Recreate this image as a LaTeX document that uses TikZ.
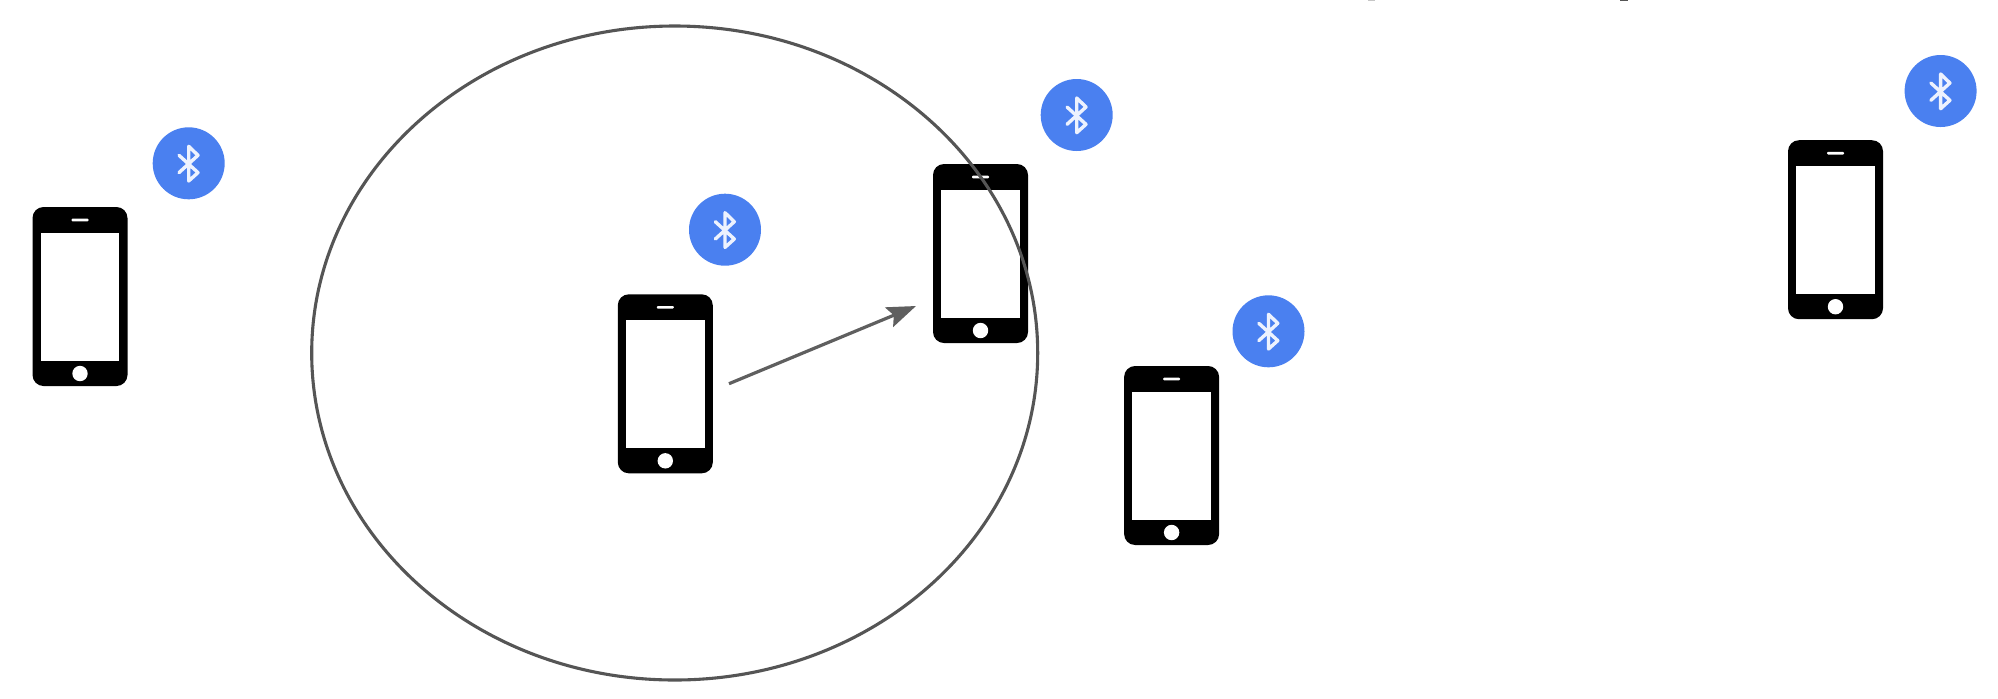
\documentclass[tikz,border=0pt]{standalone}
\usetikzlibrary{arrows.meta,shapes.geometric}
\definecolor{btblue}{HTML}{4A80F0}
\definecolor{ringgray}{HTML}{555555}
\definecolor{arrowgray}{HTML}{5F5F5F}
\tikzset{
  x=0.5pt,y=-0.5pt,
  phonebody/.style={draw=none,fill=black,rounded corners=5.5pt,minimum width=47.5pt,minimum height=89.5pt,inner sep=0pt},
  phonescreen/.style={draw=none,fill=white,minimum width=39.3pt,minimum height=63.7pt,inner sep=0pt},
  phonebutton/.style={circle,draw=none,fill=white,minimum size=7.7pt,inner sep=0pt},
  phonespeaker/.style={draw=none,fill=white,rounded corners=0.5pt,minimum width=8.5pt,minimum height=1.3pt,inner sep=0pt},
  btbadge/.style={circle,draw=none,fill=btblue,minimum size=36pt,inner sep=0pt},
  btglyph/.style={draw=white!90!btblue,line width=1.7pt,line cap=round,line join=round},
  ring/.style={draw=ringgray,line width=1.55pt},
  signal/.style={draw=arrowgray,line width=1.6pt,-{Stealth[length=14.5pt,width=10.5pt,inset=2.5pt]}},
  phone/.pic={
    \node[phonebody] (-body) at (0,0) {};
    \node[phonescreen] (-screen) at (0,0.3) {};
    \node[phonespeaker] (-speaker) at (0,-76.5) {};
    \node[phonebutton] (-button) at (0,77) {};
  },
  btmark/.pic={
    \node[btbadge] (-badge) at (0,0) {};
    \draw[btglyph] (-9.7,-8) -- (9.3,9.3) -- (0,17.7) -- (0,-17) -- (9.3,-8) -- (-9.7,9.3);
  }
}
\begin{document}
\begin{tikzpicture}
\useasboundingbox (0,0) rectangle (1998,698);
\fill[white] (0,0) rectangle (1998,698);
\fill[gray!45] (1368,0) rectangle (1375,1.2);
\fill[ringgray] (1620,0) rectangle (1628,1.4);
\pic (p1) at (80,296.5) {phone};
\pic (p2) at (665.3,383.8) {phone};
\pic (p3) at (980.5,253.5) {phone};
\pic (p4) at (1171.6,455.5) {phone};
\pic (p5) at (1835.5,229.7) {phone};
\pic (b1) at (188.7,163.3) {btmark};
\pic (b2) at (725,229.7) {btmark};
\pic (b3) at (1076.7,115) {btmark};
\pic (b4) at (1268.5,331.3) {btmark};
\pic (b5) at (1940.6,91) {btmark};
\node[ring,ellipse,minimum width=363pt,minimum height=327pt,inner sep=0pt] (range) at (674.7,353) {};
\coordinate (from) at (729,383.7);
\coordinate (to) at (916,306);
\draw[signal] (from) -- (to);
\end{tikzpicture}
\end{document}
